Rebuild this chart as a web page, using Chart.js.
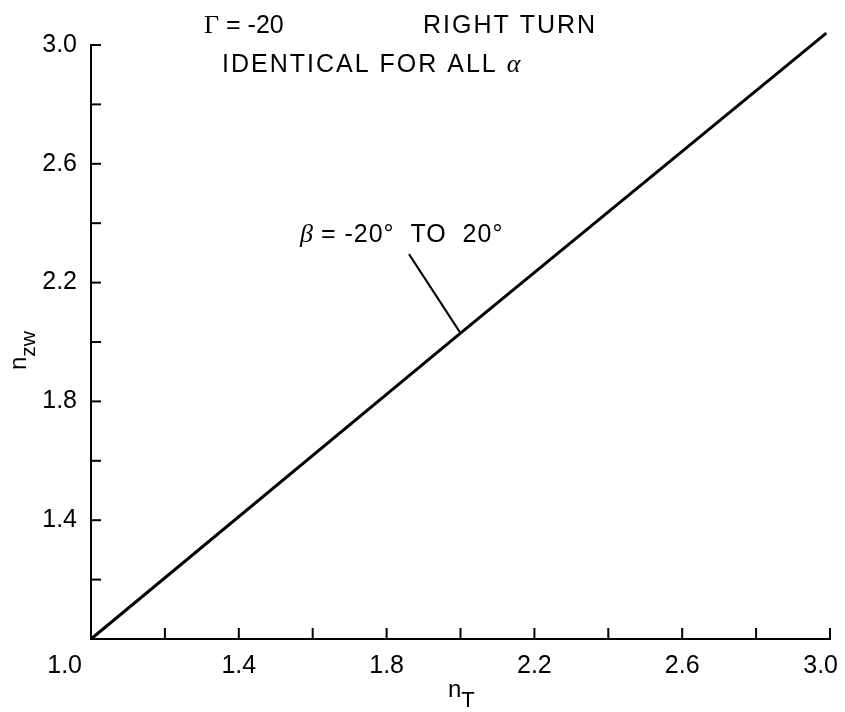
<!DOCTYPE html>
<html>
<head>
<meta charset="utf-8">
<script src="https://cdn.jsdelivr.net/npm/chart.js@4.4.1/dist/chart.umd.min.js"></script>
<style>
  html, body { margin: 0; padding: 0; background: #fff; }
  #wrap { width: 845px; height: 712px; }
</style>
</head>
<body>
<div id="wrap"><canvas id="c" width="845" height="712"></canvas></div>
<script>
// ---- data ----
const nT  = [1.0, 2.0, 2.99];
const nZW = [1.0, 2.03, 3.04];
const xTickLabels = ['1.0', '1.4', '1.8', '2.2', '2.6', '3.0'];
const yTickLabels = ['1.4', '1.8', '2.2', '2.6', '3.0'];
const titleGamma = '\u0393';
const titleGammaRest = ' = -20';
const titleTurn = 'RIGHT TURN';
const titleIdentical = 'IDENTICAL FOR ALL ';
const titleAlpha = '\u03B1';
const noteBeta = '\u03B2';
const noteBetaRest = ' = -20\u00B0  TO  20\u00B0';
const xTitle = ['n', 'T'];
const yTitle = ['n', 'zw'];

const SANS = '"Liberation Sans", Arial, Helvetica, sans-serif';
const SERIF = '"Liberation Serif", "Times New Roman", serif';

function drawRun(ctx, x, y, parts) {
  let cx = x;
  for (const p of parts) {
    ctx.font = p.font;
    ctx.letterSpacing = p.ls || '0px';
    ctx.fillText(p.t, cx, y + (p.dy || 0));
    cx += ctx.measureText(p.t).width;
  }
  ctx.letterSpacing = '0px';
}

const decorPlugin = {
  id: 'decor',
  afterDraw(chart) {
    const ctx = chart.ctx;
    const xs = chart.scales.x, ys = chart.scales.y;
    const area = chart.chartArea;
    ctx.save();
    ctx.strokeStyle = '#000';
    ctx.fillStyle = '#000';
    ctx.lineWidth = 2;
    // inward tick marks
    ys.ticks.forEach(t => {
      if (Math.abs(t.value - 1) < 1e-6) return;
      const py = ys.getPixelForValue(t.value);
      ctx.beginPath(); ctx.moveTo(area.left, py); ctx.lineTo(area.left + 10, py); ctx.stroke();
    });
    xs.ticks.forEach(t => {
      if (Math.abs(t.value - 1) < 1e-6) return;
      const px = xs.getPixelForValue(t.value);
      ctx.beginPath(); ctx.moveTo(px, area.bottom); ctx.lineTo(px, area.bottom - 11); ctx.stroke();
    });
    // x tick labels
    ctx.font = '25px ' + SANS;
    ctx.textBaseline = 'alphabetic';
    xTickLabels.forEach((lab, i) => {
      const px = xs.getPixelForValue(parseFloat(lab));
      if (i === 0) { ctx.textAlign = 'right'; ctx.fillText(lab, px - 9, area.bottom + 34); }
      else if (i === xTickLabels.length - 1) { ctx.textAlign = 'right'; ctx.fillText(lab, px + 8, area.bottom + 34); }
      else { ctx.textAlign = 'center'; ctx.fillText(lab, px, area.bottom + 34); }
    });
    ctx.textAlign = 'left';
    // axis titles
    drawRun(ctx, 448, 697, [
      { t: xTitle[0], font: '24px ' + SANS },
      { t: xTitle[1], font: '22px ' + SANS, dy: 10 }
    ]);
    ctx.save();
    ctx.translate(26, 370);
    ctx.rotate(-Math.PI / 2);
    drawRun(ctx, 0, 0, [
      { t: yTitle[0], font: '24px ' + SANS },
      { t: yTitle[1], font: '21px ' + SANS, dy: 9 }
    ]);
    ctx.restore();
    // annotations (placed in data coordinates)
    const P = (x, y) => [xs.getPixelForValue(x), ys.getPixelForValue(y)];
    let p = P(1.306, 3.040);
    drawRun(ctx, p[0], p[1], [
      { t: titleGamma, font: '26px ' + SERIF },
      { t: titleGammaRest, font: '25px ' + SANS }
    ]);
    p = P(1.8985, 3.040);
    drawRun(ctx, p[0], p[1], [{ t: titleTurn, font: '25px ' + SANS, ls: '2px' }]);
    p = P(1.3545, 2.909);
    drawRun(ctx, p[0], p[1], [
      { t: titleIdentical, font: '25px ' + SANS, ls: '2px' },
      { t: titleAlpha, font: 'italic 26px ' + SERIF }
    ]);
    p = P(1.5656, 2.337);
    drawRun(ctx, p[0], p[1], [
      { t: noteBeta, font: 'italic 26px ' + SERIF },
      { t: noteBetaRest, font: '25px ' + SANS, ls: '1px' }
    ]);
    // leader line
    const a = P(1.8606, 2.296), b = P(2.0, 2.03);
    ctx.lineWidth = 2;
    ctx.beginPath(); ctx.moveTo(a[0], a[1]); ctx.lineTo(b[0], b[1]); ctx.stroke();
    ctx.restore();
  }
};

const whiteBg = {
  id: 'whiteBg',
  beforeDraw(chart) {
    const ctx = chart.ctx;
    ctx.save(); ctx.fillStyle = '#fff'; ctx.fillRect(0, 0, chart.width, chart.height); ctx.restore();
  }
};

new Chart(document.getElementById('c'), {
  type: 'scatter',
  data: {
    datasets: [{
      data: nT.map((x, i) => ({ x: x, y: nZW[i] })),
      showLine: true,
      borderColor: '#000',
      borderWidth: 3,
      pointRadius: 0,
      tension: 0,
      clip: false
    }]
  },
  options: {
    responsive: false,
    animation: false,
    events: [],
    layout: { padding: { top: 45, right: 15, left: 0, bottom: 0 } },
    plugins: { legend: { display: false }, tooltip: { enabled: false } },
    scales: {
      x: {
        type: 'linear', min: 1.0, max: 3.0,
        border: { display: true, color: '#000', width: 2 },
        grid: { display: false, drawTicks: false },
        ticks: { display: false, stepSize: 0.2 },
        afterFit(s) { s.height = 73; }
      },
      y: {
        type: 'linear', min: 1.0, max: 3.0,
        border: { display: true, color: '#000', width: 2 },
        grid: { display: false, drawTicks: false },
        ticks: {
          stepSize: 0.2,
          padding: 14,
          color: '#000',
          font: { family: SANS, size: 25 },
          callback: v => yTickLabels.includes(Number(v).toFixed(1)) ? Number(v).toFixed(1) : ''
        },
        afterFit(s) { s.width = 91; }
      }
    }
  },
  plugins: [whiteBg, decorPlugin]
});
</script>
</body>
</html>
